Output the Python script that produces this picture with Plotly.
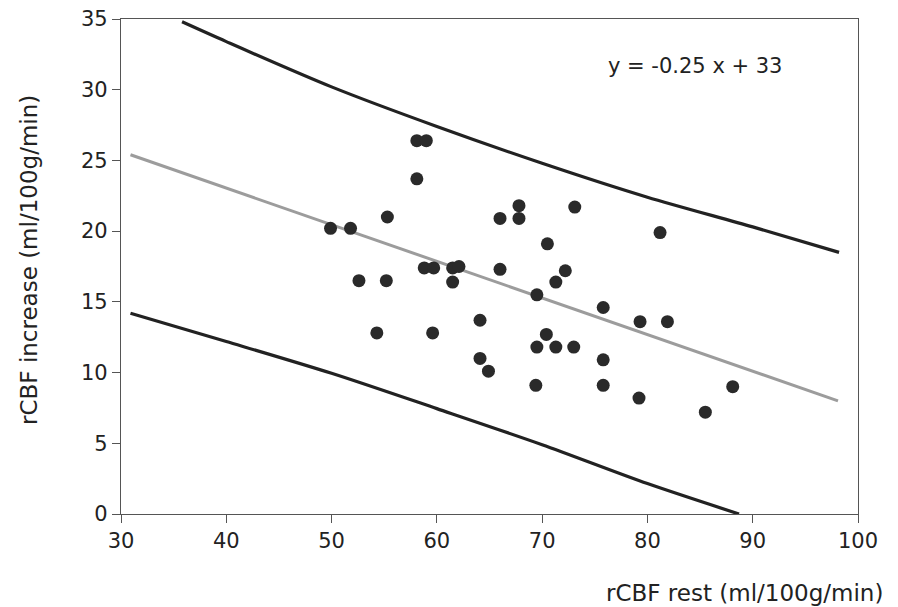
import plotly.graph_objects as go

# Scatter data: rCBF rest (x) vs rCBF increase (y)
rest_x = [58.1, 59.0, 58.1, 55.3, 49.9, 51.8, 66.0, 67.8, 67.8, 73.1, 81.2, 70.5,
          58.8, 59.7, 61.5, 62.1, 61.5, 66.0, 72.2, 71.3, 69.5, 52.6, 55.2, 75.8,
          79.3, 81.9, 54.3, 59.6, 64.1, 70.4, 69.5, 71.3, 73.0, 64.1, 64.9, 75.8,
          69.4, 75.8, 79.2, 85.5, 88.1]
increase_y = [26.4, 26.4, 23.7, 21.0, 20.2, 20.2, 20.9, 21.8, 20.9, 21.7, 19.9, 19.1,
              17.4, 17.4, 17.4, 17.5, 16.4, 17.3, 17.2, 16.4, 15.5, 16.5, 16.5, 14.6,
              13.6, 13.6, 12.8, 12.8, 13.7, 12.7, 11.8, 11.8, 11.8, 11.0, 10.1, 10.9,
              9.1, 9.1, 8.2, 7.2, 9.0]

# Regression line (y = -0.25 x + 33)
reg_x = [30.9, 98.1]
reg_y = [25.4, 8.0]

# Upper prediction band
upper_x = [35.8, 40.0, 50.0, 60.0, 70.0, 80.0, 90.0, 98.2]
upper_y = [34.8, 33.4, 30.2, 27.4, 24.8, 22.4, 20.3, 18.5]

# Lower prediction band
lower_x = [30.9, 40.0, 50.0, 60.0, 70.0, 80.0, 88.7]
lower_y = [14.2, 12.2, 9.95, 7.45, 4.9, 2.15, 0.0]

x_ticks = [30, 40, 50, 60, 70, 80, 90, 100]
y_ticks = [0, 5, 10, 15, 20, 25, 30, 35]

equation_text = "y = -0.25 x + 33"
x_title = "rCBF rest (ml/100g/min)"
y_title = "rCBF increase (ml/100g/min)"

FONT = "DejaVu Sans"
INK = "#222222"

fig = go.Figure()
fig.add_trace(go.Scatter(x=reg_x, y=reg_y, mode="lines",
                         line=dict(color="#9c9c9c", width=3, dash="solid"),
                         showlegend=False, hoverinfo="skip"))
fig.add_trace(go.Scatter(x=upper_x, y=upper_y, mode="lines",
                         line=dict(color=INK, width=3.2, shape="spline", smoothing=0.8),
                         showlegend=False, hoverinfo="skip"))
fig.add_trace(go.Scatter(x=lower_x, y=lower_y, mode="lines",
                         line=dict(color=INK, width=3.2, shape="spline", smoothing=0.8),
                         showlegend=False, hoverinfo="skip"))
fig.add_trace(go.Scatter(x=rest_x, y=increase_y, mode="markers",
                         marker=dict(color="#2a2a2a", size=13, line=dict(width=0)),
                         showlegend=False))

fig.update_layout(
    width=890, height=599,
    margin=dict(l=113, r=40, t=11, b=93, autoexpand=False),
    paper_bgcolor="white", plot_bgcolor="white",
    font=dict(family=FONT, size=21, color=INK),
    xaxis=dict(range=[30, 100], tickvals=x_ticks, ticktext=[str(v) for v in x_ticks],
               showgrid=False, zeroline=False, showline=True, linecolor="#555555",
               linewidth=1.2, mirror=True, ticks="outside", ticklen=8,
               tickcolor="#555555", ticklabeloverflow="allow", automargin=False,
               tickfont=dict(family=FONT, size=21, color=INK)),
    yaxis=dict(range=[0, 35], tickvals=y_ticks, ticktext=[str(v) for v in y_ticks],
               showgrid=False, zeroline=False, showline=True, linecolor="#555555",
               linewidth=1.2, mirror=True, ticks="outside", ticklen=8,
               tickcolor="#555555", ticklabeloverflow="allow", automargin=False,
               tickfont=dict(family=FONT, size=21, color=INK)),
    annotations=[
        dict(text=equation_text, x=84.5, y=31.7, xref="x", yref="y",
             showarrow=False, xanchor="center", yanchor="middle",
             font=dict(family=FONT, size=21, color=INK)),
        dict(text=x_title, x=1.037, y=-0.16, xref="paper", yref="paper",
             showarrow=False, xanchor="right", yanchor="middle",
             font=dict(family=FONT, size=23, color=INK)),
        dict(text=y_title, x=-0.125, y=0.513, xref="paper", yref="paper",
             showarrow=False, xanchor="center", yanchor="middle", textangle=-90,
             font=dict(family=FONT, size=23, color=INK)),
    ],
)

fig.write_html("out.html")
